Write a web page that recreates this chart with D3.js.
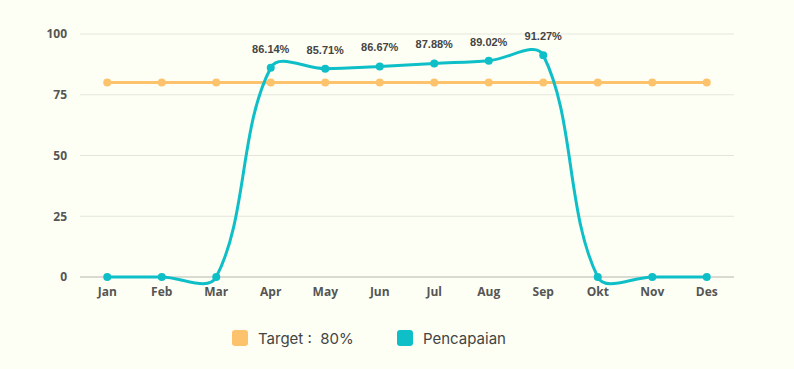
<!DOCTYPE html>
<html>
  <head>
    <meta charset="utf-8" />
    <script src="https://d3js.org/d3.v7.min.js"></script>
    <style>
      html, body { margin: 0; padding: 0; background: #fefff4; }
    </style>
  </head>
  <body>
    <div id="my_dataviz"></div>
    <script>
      // data
      var months = ["Jan", "Feb", "Mar", "Apr", "May", "Jun", "Jul", "Aug", "Sep", "Okt", "Nov", "Des"];
      var target = [80, 80, 80, 80, 80, 80, 80, 80, 80, 80, 80, 80];
      var pencapaian = [0, 0, 0, 86.14, 85.71, 86.67, 87.88, 89.02, 91.27, 0, 0, 0];
      var yTicks = [0, 25, 50, 75, 100];
      var legendLabels = ["Target :  80%", "Pencapaian"];

      var orange = "#fdc36c", teal = "#0fbfc8";

      var W = 794, H = 369;
      var margin = { top: 34, right: 60, bottom: 92, left: 80 },
        width = W - margin.left - margin.right,
        height = H - margin.top - margin.bottom;

      var svg = d3.select("#my_dataviz")
        .append("svg")
        .attr("width", W)
        .attr("height", H);

      var g = svg.append("g")
        .attr("transform", "translate(" + margin.left + "," + margin.top + ")");

      var x = d3.scaleBand().domain(months).range([0, width]);
      var y = d3.scaleLinear().domain([0, 100]).range([height, 0]);
      var cx = function (m) { return x(m) + x.bandwidth() / 2; };

      // grid lines
      g.append("g")
        .selectAll("line")
        .data(yTicks)
        .enter()
        .append("line")
        .attr("x1", 0)
        .attr("x2", width)
        .attr("y1", function (d) { return y(d); })
        .attr("y2", function (d) { return y(d); })
        .style("stroke", function (d) { return d === 0 ? "#b5b5b0" : "#e4e6dc"; })
        .style("stroke-width", 1);

      // y axis
      var yAxis = g.append("g")
        .attr("transform", "translate(-10,0)")
        .call(d3.axisLeft(y).tickValues(yTicks).tickSize(0));
      yAxis.select(".domain").remove();
      yAxis.selectAll("text")
        .style("font-family", "'Open Sans', sans-serif")
        .style("font-size", "12px")
        .style("font-weight", "700")
        .style("fill", "#555");

      // x axis
      var xAxis = g.append("g")
        .attr("transform", "translate(0," + height + ")")
        .call(d3.axisBottom(x).tickSize(0).tickPadding(10));
      xAxis.select(".domain").remove();
      xAxis.selectAll("text")
        .style("font-family", "'Open Sans', sans-serif")
        .style("font-size", "12px")
        .style("font-weight", "700")
        .style("fill", "#555");

      // spline like the chart lib (distance weighted tension)
      function splineCurve(context) {
        var pts = [];
        return {
          areaStart: function () {},
          areaEnd: function () {},
          lineStart: function () { pts = []; },
          point: function (px, py) { pts.push([+px, +py]); },
          lineEnd: function () {
            var t = 0.36, n = pts.length;
            var ctl = pts.map(function (p, i) {
              var p0 = pts[Math.max(i - 1, 0)], p2 = pts[Math.min(i + 1, n - 1)];
              var d01 = Math.hypot(p[0] - p0[0], p[1] - p0[1]);
              var d12 = Math.hypot(p2[0] - p[0], p2[1] - p[1]);
              var s01 = d01 / (d01 + d12 || 1), s12 = d12 / (d01 + d12 || 1);
              var fa = t * s01, fb = t * s12;
              return {
                prev: [p[0] - fa * (p2[0] - p0[0]), p[1] - fa * (p2[1] - p0[1])],
                next: [p[0] + fb * (p2[0] - p0[0]), p[1] + fb * (p2[1] - p0[1])]
              };
            });
            context.moveTo(pts[0][0], pts[0][1]);
            for (var i = 1; i < n; i++) {
              context.bezierCurveTo(ctl[i - 1].next[0], ctl[i - 1].next[1],
                ctl[i].prev[0], ctl[i].prev[1], pts[i][0], pts[i][1]);
            }
          }
        };
      }

      var line = d3.line()
        .x(function (d, i) { return cx(months[i]); })
        .y(function (d) { return y(d); });

      // target series
      g.append("path")
        .datum(target)
        .attr("d", line)
        .style("fill", "none")
        .style("stroke", orange)
        .style("stroke-width", 3);
      g.append("g")
        .selectAll("circle")
        .data(target)
        .enter()
        .append("circle")
        .attr("cx", function (d, i) { return cx(months[i]); })
        .attr("cy", function (d) { return y(d); })
        .attr("r", 4)
        .style("fill", orange);

      // pencapaian series
      g.append("path")
        .datum(pencapaian)
        .attr("d", line.curve(splineCurve))
        .style("fill", "none")
        .style("stroke", teal)
        .style("stroke-width", 3);
      g.append("g")
        .selectAll("circle")
        .data(pencapaian)
        .enter()
        .append("circle")
        .attr("cx", function (d, i) { return cx(months[i]); })
        .attr("cy", function (d) { return y(d); })
        .attr("r", 4)
        .style("fill", teal);

      // data labels
      g.append("g")
        .selectAll("text")
        .data(pencapaian)
        .enter()
        .filter(function (d) { return d > 0; })
        .append("text")
        .attr("x", function (d) { return cx(months[pencapaian.indexOf(d)]); })
        .attr("y", function (d) { return y(d) - 15; })
        .attr("text-anchor", "middle")
        .style("font-family", "'Liberation Sans', Arial, sans-serif")
        .style("font-size", "11px")
        .style("font-weight", "700")
        .style("fill", "#444")
        .text(function (d) { return d.toFixed(2) + "%"; });

      // legend
      var legend = svg.append("g").attr("transform", "translate(232,330)");
      var legX = [0, 165];
      var legC = [orange, teal];
      legendLabels.forEach(function (lab, i) {
        var lg = legend.append("g").attr("transform", "translate(" + legX[i] + ",0)");
        lg.append("rect")
          .attr("width", 16)
          .attr("height", 16)
          .attr("rx", 3)
          .style("fill", legC[i]);
        lg.append("text")
          .attr("x", 26)
          .attr("y", 14)
          .style("font-family", "Inter, sans-serif")
          .style("font-size", "15px")
          .style("fill", "#444")
          .style("white-space", "pre")
          .text(lab);
      });
    </script>
  </body>
</html>
